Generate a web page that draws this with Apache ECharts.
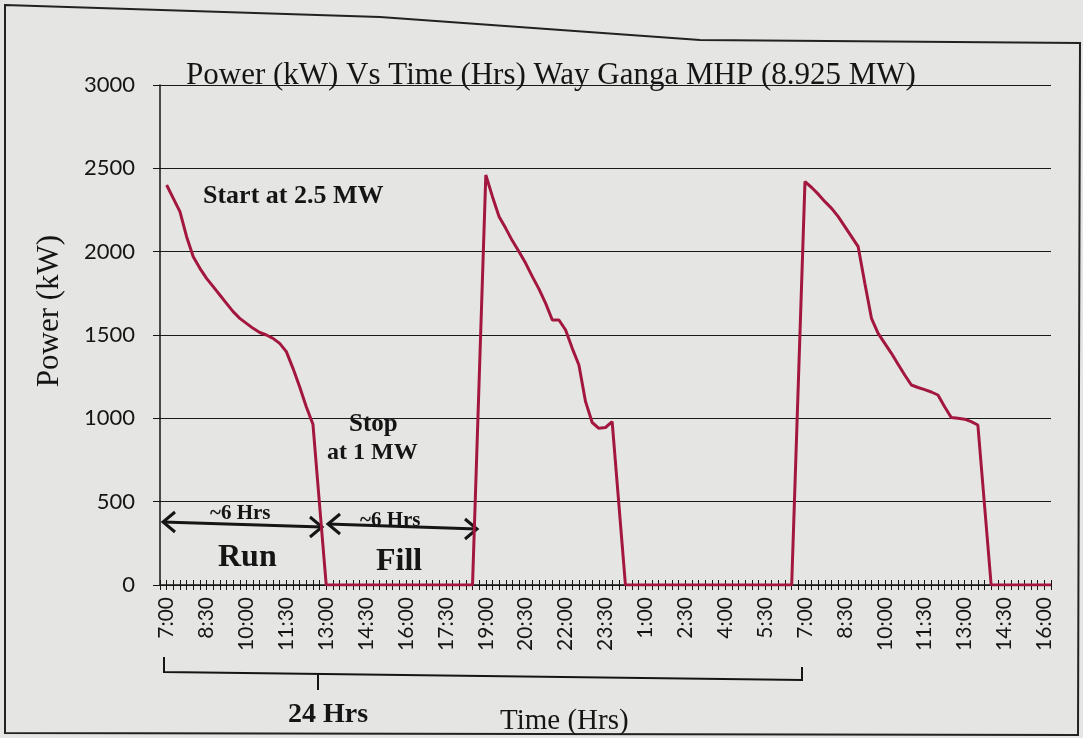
<!DOCTYPE html>
<html>
<head>
<meta charset="utf-8">
<title>Power (kW) Vs Time (Hrs) Way Ganga MHP</title>
<script src="https://cdn.jsdelivr.net/npm/echarts@6/dist/echarts.min.js"></script>
<style>
  html, body { margin: 0; padding: 0; background: #e5e6e4; }
  #chart { width: 1083px; height: 738px; }
</style>
</head>
<body>
<div id="chart"></div>
<script>
// time slots: every 15 min, 7:00 (day 1) to 16:15 (day 2)
var startTime = "7:00";
var stepMin = 15;
var slotCount = 134;
var labelEvery = 6; // one label per 1.5 hrs

var yTicks = [0, 500, 1000, 1500, 2000, 2500, 3000];

// power (kW) per slot
var run1 = [2400, 2320, 2240, 2090, 1970, 1900, 1840, 1790, 1740, 1690, 1640, 1600, 1570,
            1540, 1515, 1500, 1480, 1450, 1400, 1300, 1190, 1070, 965, 480, 0];
var fill1 = [0, 0, 0, 0, 0, 0, 0, 0, 0, 0, 0, 0, 0, 0, 0, 0, 0, 0, 0, 0, 0, 0];
var run2 = [1230, 2460, 2330, 2210, 2140, 2065, 2000, 1930, 1850, 1775, 1690, 1590,
            1590, 1530, 1420, 1320, 1100, 975, 940, 945, 980, 490, 0];
var fill2 = [0, 0, 0, 0, 0, 0, 0, 0, 0, 0, 0, 0, 0, 0, 0, 0, 0, 0, 0, 0, 0, 0, 0, 0, 0];
var run3 = [1210, 2420, 2385, 2345, 2300, 2260, 2210, 2150, 2090, 2030, 1810, 1600, 1510,
            1450, 1390, 1325, 1260, 1200, 1185, 1172, 1158, 1140, 1070, 1005, 1000, 995,
            980, 960, 480, 0];
var fill3 = [0, 0, 0, 0, 0, 0, 0, 0, 0];

var powerKW = run1.concat(fill1, run2, fill2, run3, fill3);

function buildSlots() {
  var p = startTime.split(":");
  var m0 = (+p[0]) * 60 + (+p[1]);
  var out = [""]; // empty slot so 7:00 sits just right of the y axis
  for (var i = 0; i < slotCount; i++) {
    var t = (m0 + i * stepMin) % 1440;
    var mm = t % 60;
    out.push(Math.floor(t / 60) + ":" + (mm < 10 ? "0" + mm : mm));
  }
  return out;
}
var slots = buildSlots();

var ink = "#151515";
var serif = "'Liberation Serif', 'DejaVu Serif', serif";

function txt(x, y, s, size, bold) {
  return {
    type: "text", left: x, top: y,
    style: {
      text: s, fill: ink, font: (bold ? "bold " : "") + size + "px " + serif,
      textVerticalAlign: "middle"
    }
  };
}

function arrow(x1, y1, x2, y2) {
  return [
    { type: "line", shape: { x1: x1, y1: y1, x2: x2, y2: y2 }, style: { stroke: ink, lineWidth: 3 } },
    { type: "polyline", shape: { points: [[x1 + 12, y1 - 10], [x1, y1], [x1 + 12, y1 + 10]] },
      style: { stroke: ink, lineWidth: 3, fill: null } },
    { type: "polyline", shape: { points: [[x2 - 12, y2 - 10], [x2, y2], [x2 - 12, y2 + 10]] },
      style: { stroke: ink, lineWidth: 3, fill: null } }
  ];
}

var chart = echarts.init(document.getElementById("chart"));

var graphics = [
  // page frame
  { type: "polygon", shape: { points: [[5, 5], [380, 17], [700, 40], [1080, 43], [1078, 735], [5, 733]] },
    style: { stroke: "#222", lineWidth: 2, fill: null }, silent: true },
  txt(186, 60, "Power (kW) Vs Time (Hrs) Way Ganga MHP (8.925 MW)", 31, false),
  { type: "text", x: 50, y: 311, rotation: Math.PI / 2,
    style: { text: "Power (kW)", fill: ink, font: "31px " + serif, textAlign: "center", textVerticalAlign: "middle" } },
  txt(203, 183, "Start at 2.5 MW", 26, true),
  txt(349, 412, "Stop", 25, true),
  txt(327, 441, "at 1 MW", 24, true),
  txt(210, 503, "~6 Hrs", 21, true),
  txt(360, 510, "~6 Hrs", 21, true),
  txt(218, 542, "Run", 32, true),
  txt(376, 546, "Fill", 32, true),
  txt(288, 701, "24 Hrs", 28, true),
  txt(500, 707, "Time (Hrs)", 29, false),
  // 24 hrs bracket
  { type: "polyline", shape: { points: [[164, 657], [164, 672], [802, 680], [802, 667]] },
    style: { stroke: ink, lineWidth: 2, fill: null } },
  { type: "line", shape: { x1: 318, y1: 674, x2: 318, y2: 690 }, style: { stroke: ink, lineWidth: 2 } }
].concat(arrow(163, 522, 322, 527), arrow(328, 524, 477, 529));

var option = {
  backgroundColor: "#e5e6e4",
  animation: false,
  grid: { left: 160, right: 32, top: 85, bottom: 153 },
  xAxis: [
    {
      type: "category",
      data: slots,
      boundaryGap: false,
      axisLine: { lineStyle: { color: ink, width: 1.5 } },
      axisTick: { interval: 0, length: 5, lineStyle: { color: ink } },
      axisLabel: {
        interval: function (index) { return index > 0 && (index - 1) % labelEvery === 0; },
        rotate: 90,
        margin: 12,
        color: ink,
        fontFamily: "Lato",
        fontSize: 21
      },
      splitLine: { show: false }
    },
    {
      // inner half of the crossing ticks
      type: "category",
      position: "bottom",
      data: slots,
      boundaryGap: false,
      axisLine: { show: false },
      axisTick: { interval: 0, inside: true, length: 5, lineStyle: { color: ink } },
      axisLabel: { show: false },
      splitLine: { show: false }
    }
  ],
  yAxis: {
    type: "value",
    min: yTicks[0],
    max: yTicks[yTicks.length - 1],
    interval: yTicks[1] - yTicks[0],
    axisLine: { show: true, lineStyle: { color: ink, width: 1.5 } },
    axisTick: { show: true, length: 7, lineStyle: { color: ink } },
    axisLabel: {
      margin: 25, color: ink, fontFamily: "Lato", fontSize: 22,
      formatter: function (v) { return String(v); }
    },
    splitLine: { lineStyle: { color: "#1a1a1a", width: 1.2 } }
  },
  series: [
    {
      type: "line",
      xAxisIndex: 0,
      data: [null].concat(powerKW),
      symbol: "none",
      lineStyle: { color: "#a3173f", width: 3 },
      z: 3
    }
  ],
  graphic: graphics
};

chart.setOption(option);
</script>
</body>
</html>
